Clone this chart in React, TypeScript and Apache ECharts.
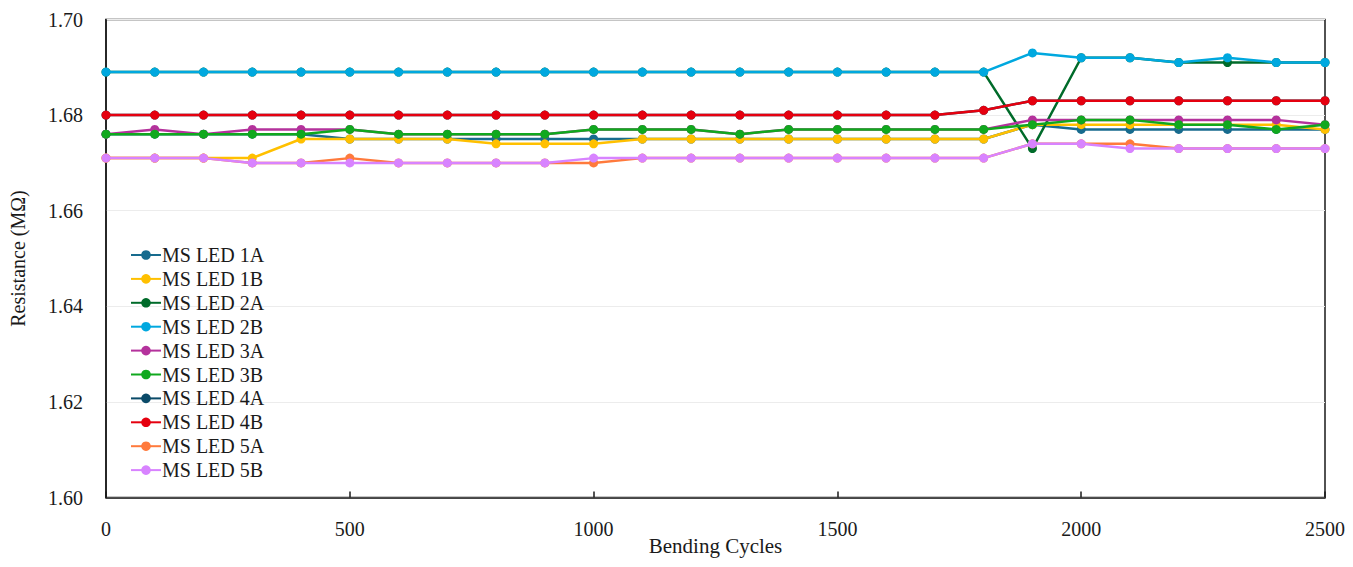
import React, { useEffect, useRef } from "react";
import * as echarts from "echarts";

const cycles = [0, 100, 200, 300, 400, 500, 600, 700, 800, 900, 1000, 1100, 1200, 1300, 1400, 1500, 1600, 1700, 1800, 1900, 2000, 2100, 2200, 2300, 2400, 2500];

const seriesNames = ["MS LED 1A", "MS LED 1B", "MS LED 2A", "MS LED 2B", "MS LED 3A", "MS LED 3B", "MS LED 4A", "MS LED 4B", "MS LED 5A", "MS LED 5B"];

const led1A = [1.676, 1.676, 1.676, 1.676, 1.676, 1.675, 1.675, 1.675, 1.675, 1.675, 1.675, 1.675, 1.675, 1.675, 1.675, 1.675, 1.675, 1.675, 1.675, 1.678, 1.677, 1.677, 1.677, 1.677, 1.677, 1.677];
const led1B = [1.671, 1.671, 1.671, 1.671, 1.675, 1.675, 1.675, 1.675, 1.674, 1.674, 1.674, 1.675, 1.675, 1.675, 1.675, 1.675, 1.675, 1.675, 1.675, 1.678, 1.678, 1.678, 1.678, 1.678, 1.678, 1.677];
const led2A = [1.689, 1.689, 1.689, 1.689, 1.689, 1.689, 1.689, 1.689, 1.689, 1.689, 1.689, 1.689, 1.689, 1.689, 1.689, 1.689, 1.689, 1.689, 1.689, 1.673, 1.692, 1.692, 1.691, 1.691, 1.691, 1.691];
const led2B = [1.689, 1.689, 1.689, 1.689, 1.689, 1.689, 1.689, 1.689, 1.689, 1.689, 1.689, 1.689, 1.689, 1.689, 1.689, 1.689, 1.689, 1.689, 1.689, 1.693, 1.692, 1.692, 1.691, 1.692, 1.691, 1.691];
const led3A = [1.676, 1.677, 1.676, 1.677, 1.677, 1.677, 1.676, 1.676, 1.676, 1.676, 1.677, 1.677, 1.677, 1.676, 1.677, 1.677, 1.677, 1.677, 1.677, 1.679, 1.679, 1.679, 1.679, 1.679, 1.679, 1.678];
const led3B = [1.676, 1.676, 1.676, 1.676, 1.676, 1.677, 1.676, 1.676, 1.676, 1.676, 1.677, 1.677, 1.677, 1.676, 1.677, 1.677, 1.677, 1.677, 1.677, 1.678, 1.679, 1.679, 1.678, 1.678, 1.677, 1.678];
const led4A = [1.68, 1.68, 1.68, 1.68, 1.68, 1.68, 1.68, 1.68, 1.68, 1.68, 1.68, 1.68, 1.68, 1.68, 1.68, 1.68, 1.68, 1.68, 1.681, 1.683, 1.683, 1.683, 1.683, 1.683, 1.683, 1.683];
const led4B = [1.68, 1.68, 1.68, 1.68, 1.68, 1.68, 1.68, 1.68, 1.68, 1.68, 1.68, 1.68, 1.68, 1.68, 1.68, 1.68, 1.68, 1.68, 1.681, 1.683, 1.683, 1.683, 1.683, 1.683, 1.683, 1.683];
const led5A = [1.671, 1.671, 1.671, 1.67, 1.67, 1.671, 1.67, 1.67, 1.67, 1.67, 1.67, 1.671, 1.671, 1.671, 1.671, 1.671, 1.671, 1.671, 1.671, 1.674, 1.674, 1.674, 1.673, 1.673, 1.673, 1.673];
const led5B = [1.671, 1.671, 1.671, 1.67, 1.67, 1.67, 1.67, 1.67, 1.67, 1.67, 1.671, 1.671, 1.671, 1.671, 1.671, 1.671, 1.671, 1.671, 1.671, 1.674, 1.674, 1.673, 1.673, 1.673, 1.673, 1.673];

const seriesValues = [led1A, led1B, led2A, led2B, led3A, led3B, led4A, led4B, led5A, led5B];
const seriesColors = ["#176B8E", "#FFC000", "#006B2A", "#00A8DF", "#B4329C", "#10A81E", "#0A4A68", "#E5000F", "#FF7A3C", "#D883FF"];

const yTicks = [1.6, 1.62, 1.64, 1.66, 1.68, 1.7];

const FONT = "'Liberation Serif', 'Times New Roman', serif";
const TXT = "#1a1a1a";

export default function App() {
  const ref = useRef<HTMLDivElement>(null);
  useEffect(() => {
    if (!ref.current) return;
    const chart = echarts.init(ref.current, undefined, { renderer: "svg" });
    chart.setOption({
      animation: false,
      backgroundColor: "#ffffff",
      textStyle: { fontFamily: FONT },
      grid: {
        left: 106,
        right: 28,
        top: 19.5,
        bottom: 69.5,
        outerBoundsMode: "none",
        containLabel: false,
        show: true,
        borderColor: "#1a1a1a",
        borderWidth: 1.5,
        backgroundColor: "transparent",
      },
      legend: {
        orient: "vertical",
        left: 125,
        top: 240,
        itemWidth: 30,
        itemHeight: 12,
        itemGap: 3.9,
        data: seriesNames,
        textStyle: { fontFamily: FONT, fontSize: 20, color: TXT, lineHeight: 20, padding: [0, 0, 0, -4] },
      },
      xAxis: {
        type: "value",
        min: 0,
        max: 2500,
        interval: 500,
        name: "Bending Cycles",
        nameLocation: "middle",
        nameGap: 38,
        nameMoveOverlap: false,
        nameTextStyle: { fontFamily: FONT, fontSize: 21, color: TXT },
        axisLine: { show: true, lineStyle: { color: "#1a1a1a", width: 1.5 } },
        axisTick: { show: true, inside: true, length: 6, lineStyle: { color: "#1a1a1a", width: 1.5 } },
        axisLabel: { fontFamily: FONT, fontSize: 20, color: TXT, margin: 21, formatter: (v: number) => String(v) },
        splitLine: { show: false },
      },
      yAxis: {
        type: "value",
        min: 1.6,
        max: 1.7,
        interval: 0.02,
        name: "Resistance (MΩ)",
        nameLocation: "middle",
        nameGap: 78,
        nameMoveOverlap: false,
        nameTextStyle: { fontFamily: FONT, fontSize: 20, color: TXT },
        axisLine: { show: true, lineStyle: { color: "#1a1a1a", width: 1.5 } },
        axisTick: { show: false },
        axisLabel: {
          fontFamily: FONT,
          fontSize: 20,
          color: TXT,
          margin: 23,
          formatter: (v: number) => {
            const t = yTicks.find((y) => Math.abs(y - v) < 1e-6);
            return (t ?? v).toFixed(2);
          },
        },
        splitLine: { show: true, lineStyle: { color: "#ececec", width: 1.2 } },
      },
      series: seriesNames.map((name, i) => ({
        name,
        type: "line",
        data: cycles.map((c, j) => [c, seriesValues[i][j]]),
        symbol: "circle",
        symbolSize: 9,
        color: seriesColors[i],
        lineStyle: { width: 2.5, color: seriesColors[i] },
        itemStyle: { color: seriesColors[i] },
        z: 2 + i,
      })),
    });
    return () => chart.dispose();
  }, []);
  return (
    <div
      ref={ref}
      style={{ position: "absolute", left: 0, top: 0, width: 1353, height: 567 }}
    />
  );
}
